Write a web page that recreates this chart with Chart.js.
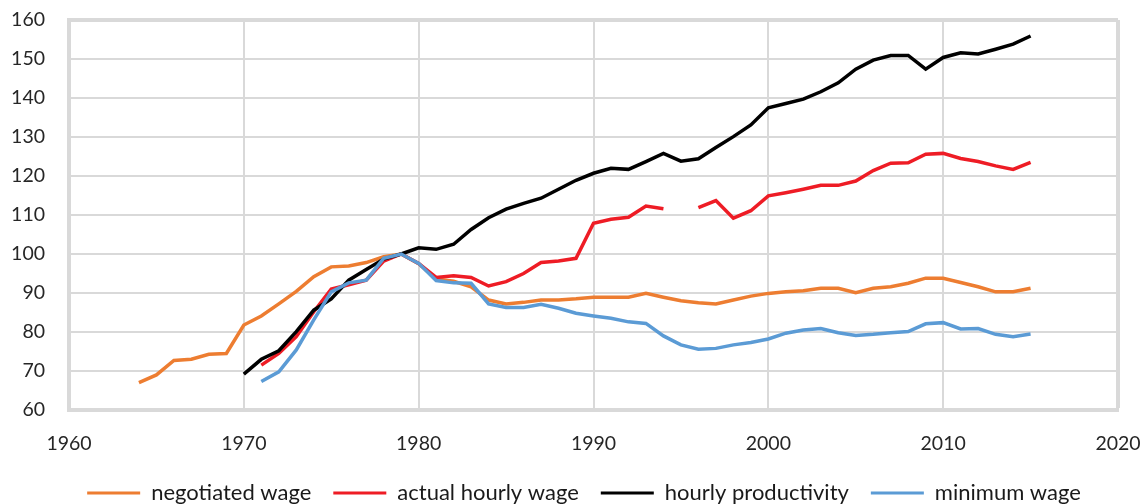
<!DOCTYPE html>
<html lang="en">
<head>
    <meta charset="UTF-8">
    <title>Wages and productivity</title>
    <style>
        body { margin: 0; padding: 0; background: #fff; }
        #wrap { width: 1147px; height: 504px; position: relative; }
    </style>
</head>
<body>
    <div id="wrap"><canvas id="wageChart"></canvas></div>

    <script src="https://cdn.jsdelivr.net/npm/chart.js"></script>
    <script>
        // years 1964 .. 2015, null = no value
        const years = [];
        for (let y = 1964; y <= 2015; y++) years.push(y);

        const negotiatedWage = [67, 69, 72.7, 73, 74.3, 74.5, 81.8, 84.1, 87.2, 90.4,
            94.2, 96.7, 96.9, 97.8, 99.3, 100, 97.5, 93.6, 93, 91.6,
            88.2, 87.2, 87.6, 88.2, 88.2, 88.5, 88.9, 88.9, 88.9, 89.9,
            88.9, 88, 87.5, 87.2, 88.2, 89.2, 89.9, 90.3, 90.6, 91.2,
            91.2, 90.1, 91.2, 91.6, 92.5, 93.8, 93.8, 92.7, 91.6, 90.3,
            90.3, 91.2];

        const actualHourlyWage = [null, null, null, null, null, null, null, 71.5, 74.5, 78.8,
            85.2, 91, 92.1, 93.3, 98.2, 100, 97.6, 94, 94.4, 94,
            91.8, 92.9, 95, 97.8, 98.2, 98.9, 107.9, 108.9, 109.4, 112.3,
            111.6, null, 111.9, 113.7, 109.2, 111.1, 114.9, 115.7, 116.6, 117.6,
            117.6, 118.7, 121.4, 123.3, 123.4, 125.6, 125.8, 124.5, 123.7, 122.6,
            121.7, 123.5];

        const hourlyProductivity = [null, null, null, null, null, null, 69.2, 73, 75.2, 80.1,
            85.6, 88.5, 93.3, 96, 98.7, 100, 101.6, 101.2, 102.5, 106.3,
            109.3, 111.5, 113, 114.3, 116.6, 118.9, 120.7, 122, 121.7, 123.7,
            125.8, 123.8, 124.4, 127.3, 130.1, 133.1, 137.5, 138.6, 139.7, 141.6,
            143.9, 147.4, 149.7, 150.9, 150.9, 147.4, 150.4, 151.6, 151.3, 152.5,
            153.8, 155.9];

        const minimumWage = [null, null, null, null, null, null, null, 67.3, 69.8, 75.4,
            83.1, 90.3, 92.6, 93.3, 98.9, 100, 97.6, 93.2, 92.6, 92.5,
            87.2, 86.3, 86.3, 87.1, 86.1, 84.8, 84.1, 83.5, 82.6, 82.2,
            79, 76.7, 75.6, 75.8, 76.7, 77.3, 78.2, 79.7, 80.5, 80.9,
            79.8, 79.1, 79.4, 79.8, 80.1, 82.1, 82.4, 80.8, 80.9, 79.4,
            78.8, 79.5];

        const seriesNames = ['negotiated wage', 'actual hourly wage', 'hourly productivity', 'minimum wage'];
        const seriesColors = ['#ED7D31', '#EE1C25', '#000000', '#5B9BD5'];

        function points(values) {
            return years.map((yr, i) => ({ x: yr, y: values[i] }));
        }

        const allSeries = [negotiatedWage, actualHourlyWage, hourlyProductivity, minimumWage];
        const gridColor = '#d9d9d9';

        const datasets = allSeries.map((vals, i) => ({
            label: seriesNames[i],
            data: points(vals),
            borderColor: seriesColors[i],
            backgroundColor: seriesColors[i],
            borderWidth: 3.5,
            pointRadius: 0,
            tension: 0,
            // later series on top, like the original
            order: allSeries.length - i
        }));

        Chart.defaults.font.family = 'Lato, "Open Sans", sans-serif';
        Chart.defaults.font.size = 19.5;
        Chart.defaults.color = '#262626';

        const defaultLabels = Chart.defaults.plugins.legend.labels.generateLabels;

        // squeeze the legend box under the axis labels and nudge it into place
        const legendPlace = {
            id: 'legendPlace',
            beforeInit(chart) {
                const fit = chart.legend.fit;
                chart.legend.fit = function () {
                    fit.bind(chart.legend)();
                    this.height = 50;
                };
            },
            afterLayout(chart) {
                chart.legend.left += 50;
                chart.legend.top += 6;
            }
        };

        new Chart(document.getElementById('wageChart'), {
            type: 'line',
            data: { datasets: datasets },
            plugins: [legendPlace],
            options: {
                responsive: true,
                maintainAspectRatio: false,
                animation: false,
                layout: { padding: { left: 0, right: 29, top: 20, bottom: 0 } },
                plugins: {
                    tooltip: { enabled: false },
                    legend: {
                        position: 'bottom',
                        reverse: true,
                        labels: {
                            boxWidth: 53,
                            boxHeight: 3,
                            padding: 22,
                            color: '#1a1a1a',
                            font: { size: 22 },
                            generateLabels: function (chart) {
                                return defaultLabels(chart).map(item => {
                                    item.lineWidth = 0;
                                    return item;
                                });
                            }
                        }
                    }
                },
                scales: {
                    x: {
                        type: 'linear',
                        min: 1960,
                        max: 2020,
                        ticks: { stepSize: 10, padding: 22, callback: v => String(v) },
                        grid: {
                            color: gridColor,
                            lineWidth: ctx => (ctx.tick && ctx.tick.value === 2020 ? 4 : 2),
                            drawTicks: false
                        },
                        border: { display: true, color: gridColor, width: 4 },
                        afterFit: scale => {
                            scale.height = 44;
                            scale.paddingLeft = 0;
                            scale.paddingRight = 0;
                        }
                    },
                    y: {
                        min: 60,
                        max: 160,
                        ticks: { stepSize: 10, padding: 24 },
                        grid: {
                            color: gridColor,
                            lineWidth: ctx => (ctx.tick && ctx.tick.value === 160 ? 4 : 2),
                            drawTicks: false
                        },
                        border: { display: true, color: gridColor, width: 4 },
                        afterFit: scale => {
                            scale.width = 69;
                            scale.paddingTop = 0;
                            scale.paddingBottom = 0;
                        }
                    }
                }
            }
        });
    </script>
</body>
</html>
